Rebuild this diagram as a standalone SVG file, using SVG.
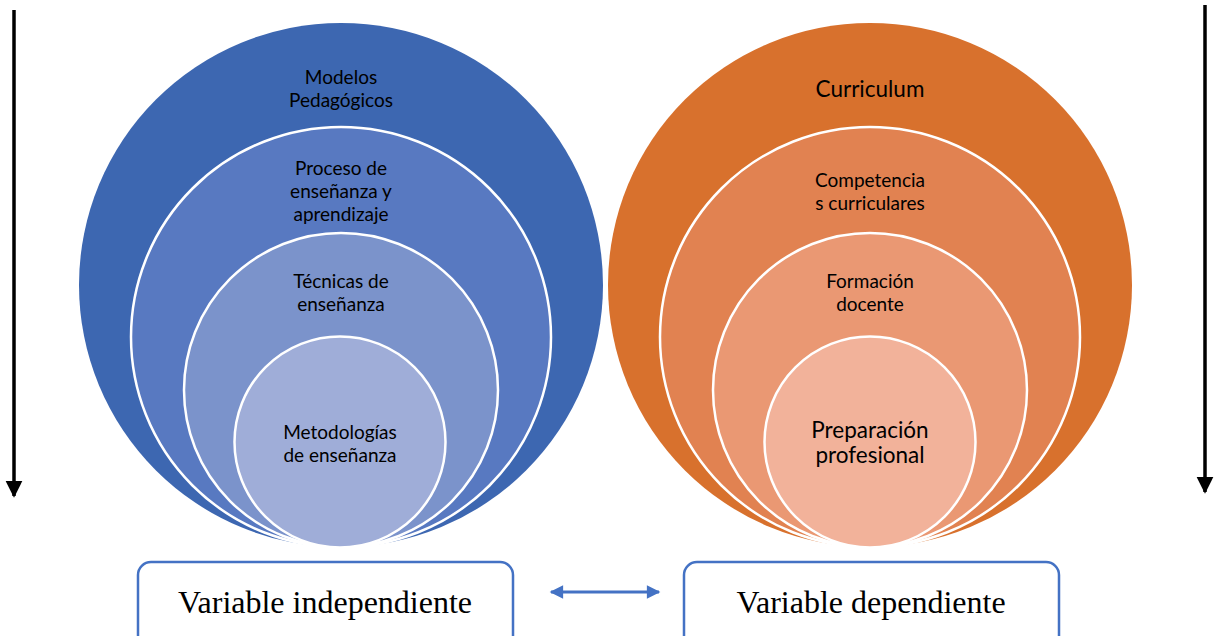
<svg xmlns="http://www.w3.org/2000/svg" width="1214" height="636" viewBox="0 0 1214 636">
<style>
.ring{stroke:#fff;stroke-width:2.5}
.lbl{font-family:Lato,"Open Sans","Liberation Sans",sans-serif;font-size:19px;fill:#000;text-anchor:middle}
.big{font-size:22.5px}
.box{fill:#fff;stroke:#4472C4;stroke-width:2.5}
.var{font-family:"Liberation Serif",serif;font-size:32px;fill:#000;text-anchor:middle}
</style>
<defs>
<marker id="blk" viewBox="0 0 10 10" refX="9" refY="5" markerWidth="4.8" markerHeight="5" orient="auto" markerUnits="strokeWidth"><path d="M0,0L10,5L0,10z" fill="#000"/></marker>
<marker id="blu" viewBox="0 0 10 10" refX="9" refY="5" markerWidth="5" markerHeight="4.5" orient="auto-start-reverse" markerUnits="strokeWidth"><path d="M0,0L10,5L0,10z" fill="#4472C4"/></marker>
</defs>
<rect width="1214" height="636" fill="#fff"/>
<g id="left-stack">
<g id="modelos"><circle cx="341" cy="285" r="262" fill="#3D67B1"/><text class="lbl" x="341" y="84">Modelos</text><text class="lbl" x="341" y="107">Pedagógicos</text></g>
<g id="proceso"><circle class="ring" cx="341" cy="337" r="210" fill="#5879C1"/><text class="lbl" x="341" y="175">Proceso de</text><text class="lbl" x="341" y="198">enseñanza y</text><text class="lbl" x="341" y="221">aprendizaje</text></g>
<g id="tecnicas"><circle class="ring" cx="341" cy="390" r="157" fill="#7B93CB"/><text class="lbl" x="341" y="288">Técnicas de</text><text class="lbl" x="341" y="311">enseñanza</text></g>
<g id="metodologias"><circle class="ring" cx="340" cy="442" r="105.5" fill="#9FADD8"/><text class="lbl" x="340" y="439">Metodologías</text><text class="lbl" x="340" y="462">de enseñanza</text></g>
</g>
<g id="right-stack">
<g id="curriculum"><circle cx="870" cy="285" r="262" fill="#D8712D"/><text class="lbl big" x="870" y="97">Curriculum</text></g>
<g id="competencias"><circle class="ring" cx="870" cy="337" r="210" fill="#E18251"/><text class="lbl" x="870" y="187">Competencia</text><text class="lbl" x="870" y="210">s curriculares</text></g>
<g id="formacion"><circle class="ring" cx="870" cy="390" r="157" fill="#EA9873"/><text class="lbl" x="870" y="288">Formación</text><text class="lbl" x="870" y="311">docente</text></g>
<g id="preparacion"><circle class="ring" cx="870" cy="442" r="105.5" fill="#F2B29A"/><text class="lbl big" x="870" y="438">Preparación</text><text class="lbl big" x="870" y="463">profesional</text></g>
</g>
<g id="var-independiente"><rect class="box" x="138" y="562" width="375" height="90" rx="13"/><text class="var" x="325" y="613">Variable independiente</text></g>
<g id="var-dependiente"><rect class="box" x="684" y="562" width="375" height="90" rx="13"/><text class="var" x="871" y="613">Variable dependiente</text></g>
<g id="connectors">
<line x1="14" y1="10" x2="14" y2="496" stroke="#000" stroke-width="3.5" marker-end="url(#blk)"/>
<line x1="1205" y1="5" x2="1205" y2="492" stroke="#000" stroke-width="3.5" marker-end="url(#blk)"/>
<line x1="551" y1="592" x2="659" y2="592" stroke="#4472C4" stroke-width="3" marker-start="url(#blu)" marker-end="url(#blu)"/>
</g>
</svg>
